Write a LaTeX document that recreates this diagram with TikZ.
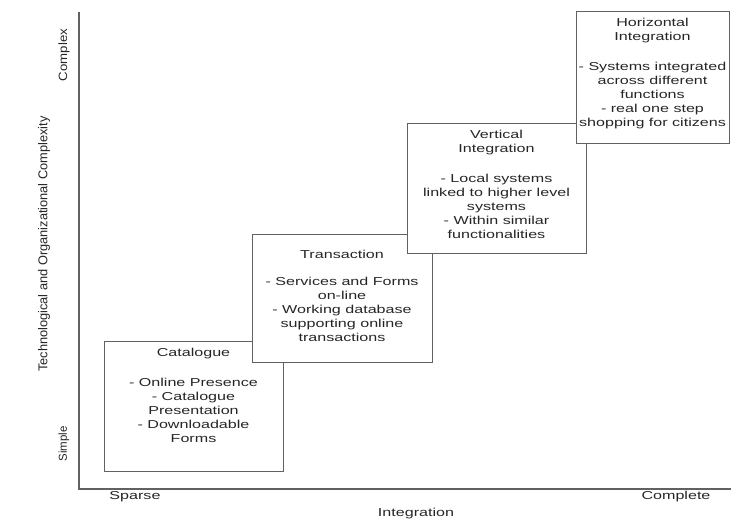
\documentclass[tikz,border=0pt]{standalone}
\usepackage{fontspec}
\setmainfont{Liberation Sans}
\newfontfamily\widefont[FakeStretch=1.4]{Liberation Sans}
\newfontfamily\tallfont[FakeStretch=1.1]{Liberation Sans}
\begin{document}
\begin{tikzpicture}[x=1pt,y=-1pt,
  box/.style={draw=black!62, line width=1.4pt, fill=white, inner sep=0pt, anchor=north west},
  boxtext/.style={anchor=north, inner sep=0pt, align=center, text=black!85,
    font=\widefont\fontsize{11.5}{14}\selectfont},
  axislabel/.style={inner sep=0pt, text=black!85, font=\widefont\fontsize{11.5}{14}\selectfont},
  rotlabel/.style={inner sep=0pt, rotate=90, text=black!85},
  axis/.style={draw=black!62, line width=1.8pt}]
\useasboundingbox (0,0) rectangle (741,522);
\fill[white] (0,0) rectangle (741,522);

% axes
\coordinate (top) at (79,12);
\coordinate (origin) at (79,489);
\coordinate (right) at (731,489);
\draw[axis] (top) -- (origin) -- (right);

% axis labels
\node[rotlabel, font=\tallfont\fontsize{12}{14}\selectfont] (complex) at (64,55) {Complex};
\node[rotlabel, font=\fontsize{11.5}{14}\selectfont] (simple) at (64,444) {Simple};
\node[rotlabel, font=\fontsize{12.8}{14}\selectfont] (ylab) at (44,244) {Technological and Organizational Complexity};
\node[axislabel] (sparse) at (135,497) {Sparse};
\node[axislabel] (complete) at (676,497) {Complete};
\node[axislabel] (xlab) at (416,514) {Integration};

% boxes
\node[box, minimum width=179pt, minimum height=130pt] (cat) at (104,341) {};
\node[boxtext] (cattext) at (193.5,348) {Catalogue\\[16pt]- Online Presence\\- Catalogue\\Presentation\\- Downloadable\\Forms};

\node[box, minimum width=180pt, minimum height=128pt] (tra) at (252,234) {};
\node[boxtext] (tratext) at (342,250) {Transaction\\[13pt]- Services and Forms\\on-line\\- Working database\\supporting online\\transactions};

\node[box, minimum width=179pt, minimum height=130pt] (ver) at (407,123) {};
\node[boxtext] (vertext) at (496.5,130) {Vertical\\Integration\\[16pt]- Local systems\\linked to higher level\\systems\\- Within similar\\functionalities};

\node[box, minimum width=153pt, minimum height=132pt] (hor) at (576,11) {};
\node[boxtext] (hortext) at (652.5,18) {Horizontal\\Integration\\[16pt]- Systems integrated\\across different\\functions\\- real one step\\shopping for citizens};
\end{tikzpicture}
\end{document}
